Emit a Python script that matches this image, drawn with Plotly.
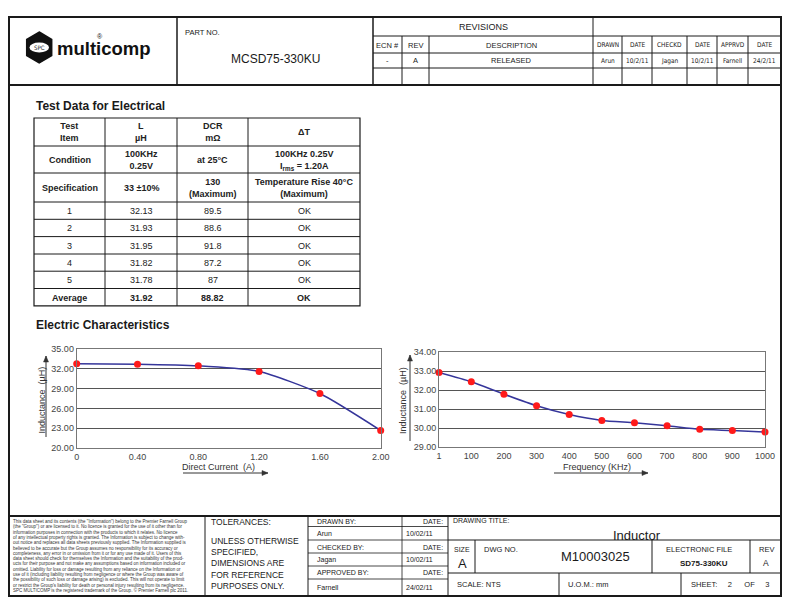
import plotly.graph_objects as go

# page is 792x612; the browser adds an 8px body margin around the figure
W, H = 792, 612
OFF = 8
FIG_W, FIG_H = W - 2 * OFF, H - 2 * OFF
FONT = "Liberation Sans, Arial, sans-serif"
NARROW = "Liberation Sans Narrow, DejaVu Sans Condensed, Liberation Sans, sans-serif"
INK = "#1a1a1a"

# --- chart data ---
dc_current = [0, 0.40, 0.80, 1.20, 1.60, 2.00]
dc_inductance = [32.75, 32.70, 32.45, 31.60, 28.25, 22.65]
dc_ticks = ["0", "0.40", "0.80", "1.20", "1.60", "2.00"]
dc_yticks = [20, 23, 26, 29, 32, 35]

freq_khz = [1, 100, 200, 300, 400, 500, 600, 700, 800, 900, 1000]
freq_inductance = [32.92, 32.43, 31.78, 31.17, 30.71, 30.40, 30.28, 30.12, 29.93, 29.87, 29.79]
freq_yticks = [29, 30, 31, 32, 33, 34]

# --- test table ---
table_header = ["Test<br>Item", "L<br>µH", "DCR<br>mΩ", "ΔT"]
condition_row = ["Condition", "100KHz<br>0.25V", "at 25°C", "100KHz 0.25V<br>I<sub>rms</sub> = 1.20A"]
spec_row = ["Specification", "33 ±10%", "130<br>(Maximum)", "Temperature Rise 40°C<br>(Maximum)"]
sample_ids = ["1", "2", "3", "4", "5"]
sample_L = ["32.13", "31.93", "31.95", "31.82", "31.78"]
sample_dcr = ["89.5", "88.6", "91.8", "87.2", "87"]
sample_dt = ["OK", "OK", "OK", "OK", "OK"]
average_row = ["Average", "31.92", "88.82", "OK"]

# --- revision block ---
rev_left_head = ["ECN #", "REV", "DESCRIPTION"]
rev_left_vals = ["-", "A", "RELEASED"]
rev_right_head = ["DRAWN", "DATE", "CHECKD", "DATE", "APPRVD", "DATE"]
rev_right_vals = ["Arun", "10/2/11", "Jagan", "10/2/11", "Farnell", "24/2/11"]

disclaimer = [
    "This data sheet and its contents (the \"Information\") belong to the Premier Farnell Group",
    "(the \"Group\") or are licensed to it. No licence is granted for the use of it other than for",
    "information purposes in connection with the products to which it relates. No licence",
    "of any intellectual property rights is granted. The Information is subject to change with-",
    "out notice and replaces all data sheets previously supplied. The Information supplied is",
    "believed to be accurate but the Group assumes no responsibility for its accuracy or",
    "completeness, any error in or omission from it or for any use made of it. Users of this",
    "data sheet should check for themselves the Information and the suitability of the prod-",
    "ucts for their purpose and not make any assumptions based on information included or",
    "omitted. Liability for loss or damage resulting from any reliance on the Information or",
    "use of it (including liability resulting from negligence or where the Group was aware of",
    "the possibility of such loss or damage arising) is excluded. This will not operate to limit",
    "or restrict the Group's liability for death or personal injury resulting from its negligence.",
    "SPC MULTICOMP is the registered trademark of the Group. © Premier Farnell plc 2011.",
]
tolerances = ["UNLESS OTHERWISE", "SPECIFIED,", "DIMENSIONS ARE", "FOR REFERENCE", "PURPOSES ONLY."]

shapes = []
annotations = []


def px(x):
    # page pixel -> paper fraction
    return (x - OFF) / FIG_W


def py(y):
    return 1 - (y - OFF) / FIG_H


def line(x0, y0, x1, y1, w=1, c=INK):
    shapes.append(dict(type="line", xref="paper", yref="paper",
                       x0=px(x0), y0=py(y0), x1=px(x1), y1=py(y1),
                       line=dict(color=c, width=w)))


def text(x, y, s, size=8, bold=False, anchor="center", color=INK, family=FONT, angle=0):
    if bold:
        s = "<b>" + s.replace("<br>", "</b><br><b>") + "</b>"
    annotations.append(dict(xref="paper", yref="paper", x=px(x), y=py(y), text=s,
                            showarrow=False, xanchor=anchor, yanchor="middle",
                            textangle=angle, borderpad=0,
                            font=dict(size=size, color=color, family=family)))


def arrow(x0, y0, x1, y1, c="#333"):
    # axis-title arrow: a line with a small filled head at (x1, y1)
    line(x0, y0, x1, y1, 1, c)
    if x0 == x1:
        d = -1 if y1 < y0 else 1
        pts = [(x1, y1), (x1 - 2.5, y1 - d * 6), (x1 + 2.5, y1 - d * 6)]
    else:
        d = 1 if x1 > x0 else -1
        pts = [(x1, y1), (x1 - d * 6, y1 - 2.5), (x1 - d * 6, y1 + 2.5)]
    path = "M " + " L ".join(f"{px(a)} {py(b)}" for a, b in pts) + " Z"
    shapes.append(dict(type="path", xref="paper", yref="paper", path=path,
                       fillcolor=c, line=dict(color=c, width=0.5)))


# outer frame and main dividers
shapes.append(dict(type="rect", xref="paper", yref="paper", x0=px(9), y0=py(17), x1=px(781), y1=py(596),
                   line=dict(color=INK, width=2)))
line(9, 85, 781, 85, 2)
line(9, 516, 781, 516, 2)
line(177, 17, 177, 85, 1.5)
line(373, 17, 373, 85, 1.5)

# logo
hexpath = "M {} {} L {} {} L {} {} L {} {} L {} {} L {} {} Z".format(
    px(39.2), py(32), px(51.7), py(39.5), px(51.7), py(55.5),
    px(39.2), py(63), px(26.7), py(55.5), px(26.7), py(39.5))
shapes.append(dict(type="path", xref="paper", yref="paper", path=hexpath,
                   fillcolor="#111", line=dict(color="#111", width=1.5)))
shapes.append(dict(type="circle", xref="paper", yref="paper", x0=px(29.5), y0=py(42.5), x1=px(49), y1=py(52.5),
                   fillcolor="white", line=dict(color="white", width=0)))
text(39.3, 47.7, "SPC", 6, family=NARROW)
text(104, 48, "<b>multicomp</b>", 18.5, color="#111")
text(99.5, 37, "®", 7, color="#111")

# part number
text(184, 33, "PART NO.", 7.5, anchor="left")
text(275, 59, "MCSD75-330KU", 12)

# revisions
line(593, 17, 593, 85)
line(373, 36, 781, 36)
line(373, 53, 781, 53)
line(373, 68, 781, 68)
for xv in [402, 429, 622, 652, 687, 717, 748]:
    line(xv, 36, xv, 85)
text(483, 26.5, "REVISIONS", 9)
left_cols = [373, 402, 429, 593]
for i in range(3):
    cx = (left_cols[i] + left_cols[i + 1]) / 2
    text(cx, 45, rev_left_head[i], 7.5)
    text(cx, 60.5, rev_left_vals[i], 7.5)
right_cols = [593, 622, 652, 687, 717, 748, 781]
for i in range(6):
    cx = (right_cols[i] + right_cols[i + 1]) / 2
    text(cx, 45.5, rev_right_head[i], 6.5, family=NARROW)
    text(cx, 61, rev_right_vals[i], 6.5, family=NARROW)

# test data table
text(35, 106, "Test Data for Electrical", 12, bold=True, anchor="left")
col_x = [34, 105, 177, 248, 360]
row_y = [118, 146, 173, 202, 219.3, 236.6, 254, 271.2, 288.5, 305.8]
shapes.append(dict(type="rect", xref="paper", yref="paper", x0=px(col_x[0]), y0=py(row_y[0]),
                   x1=px(col_x[-1]), y1=py(row_y[-1]), line=dict(color=INK, width=1.2)))
for xv in col_x[1:-1]:
    line(xv, row_y[0], xv, row_y[-1])
for yv in row_y[1:-1]:
    line(col_x[0], yv, col_x[-1], yv)

table_rows = [(table_header, True), (condition_row, True), (spec_row, True)]
for k in range(5):
    table_rows.append(([sample_ids[k], sample_L[k], sample_dcr[k], sample_dt[k]], False))
table_rows.append((average_row, True))
for r, (cells, bold) in enumerate(table_rows):
    cy = (row_y[r] + row_y[r + 1]) / 2 + 0.5
    for c, s in enumerate(cells):
        cx = (col_x[c] + col_x[c + 1]) / 2
        text(cx, cy, s, 9, bold=bold, color="#222")

# electric characteristics
text(35, 325, "Electric Characteristics", 12, bold=True, anchor="left")

fig = go.Figure()
fig.add_trace(go.Scatter(x=dc_current, y=dc_inductance, mode="lines+markers",
                         line=dict(color="#35359a", width=1.5, shape="spline", smoothing=0.6),
                         marker=dict(color="#ff1a1a", size=7), cliponaxis=False,
                         xaxis="x", yaxis="y", showlegend=False))
fig.add_trace(go.Scatter(x=freq_khz, y=freq_inductance, mode="lines+markers",
                         line=dict(color="#35359a", width=1.5, shape="spline", smoothing=0.6),
                         marker=dict(color="#ff1a1a", size=7), cliponaxis=False,
                         xaxis="x2", yaxis="y2", showlegend=False))

tick_font = dict(size=9, color="#444", family=FONT)
axis_common = dict(showline=True, mirror=True, linecolor="#777", linewidth=1, automargin=False,
                   ticks="", zeroline=False, tickfont=tick_font, fixedrange=True)

# axis titles and arrows
text(41.5, 400, "Inductance  (µH)", 9, angle=-90, color="#333")
arrow(46, 437, 46, 356)
text(218, 466.5, "Direct Current  (A)", 9, color="#333")
arrow(183, 473, 268, 473)
text(403, 401, "Inductance  (µH)", 9, angle=-90, color="#333")
arrow(410, 441, 410, 355)
text(597, 466.5, "Frequency (KHz)", 9, color="#333")
arrow(554, 473, 648, 473)

# footer: disclaimer
for i, s in enumerate(disclaimer):
    text(12, 521.5 + i * 5.3, s, 4.5, anchor="left", color="#333")
line(205, 516, 205, 596)

# tolerances
text(210, 522, "TOLERANCES:", 8.5, anchor="left")
for i, s in enumerate(tolerances):
    text(210, 541 + i * 11.2, s, 8.5, anchor="left")
line(308, 516, 308, 596)

# drawn / checked / approved
for yv in [526.5, 540, 553, 566, 579]:
    line(308, yv, 448, yv, 0.8)
line(402, 516, 402, 596, 0.8)
sign_labels = ["DRAWN BY:", "CHECKED BY:", "APPROVED BY:"]
sign_names = ["Arun", "Jagan", "Farnell"]
sign_dates = ["10/02/11", "10/02/11", "24/02/11"]
label_y = [521.5, 547, 572.5]
name_y = [533.5, 559.5, 587]
for i in range(3):
    text(316, label_y[i], sign_labels[i], 7, anchor="left")
    text(444, label_y[i], "DATE:", 7, anchor="right")
    text(316, name_y[i], sign_names[i], 7, anchor="left")
    text(405, name_y[i], sign_dates[i], 7, anchor="left")
line(448, 516, 448, 596, 1)

# title block
text(452, 520, "DRAWING TITLE:", 7, anchor="left")
text(637, 535, "Inductor", 13)
line(448, 540, 781, 540)
line(448, 573, 781, 573)
line(475, 540, 475, 573)
line(652, 540, 652, 573)
line(750, 540, 750, 573)
line(559, 573, 559, 596)
line(681, 573, 681, 596)
text(462, 549, "SIZE", 7)
text(462, 563, "A", 13)
text(483, 549.5, "DWG NO.", 7.5, anchor="left")
text(595, 556, "M10003025", 13)
text(699, 549.5, "ELECTRONIC FILE", 7.5)
text(704, 563, "SD75-330KU", 8, bold=True)
text(766, 549.5, "REV", 7.5)
text(766, 563, "A", 8.5)
text(456, 584, "SCALE: NTS", 7.5, anchor="left")
text(567, 584, "U.O.M.: mm", 7.5, anchor="left")
text(690, 584, "SHEET:     2      OF     3", 7.5, anchor="left")

fig.update_layout(
    width=FIG_W, height=FIG_H,
    margin=dict(l=0, r=0, t=0, b=0, autoexpand=False),
    paper_bgcolor="white", plot_bgcolor="white",
    font=dict(family=FONT, color=INK),
    xaxis=dict(domain=[px(76.7), px(380.7)], range=[0, 2], tickvals=dc_current, ticktext=dc_ticks,
               showgrid=False, anchor="y", **axis_common),
    yaxis=dict(domain=[py(448), py(349)], range=[20, 35], tickvals=dc_yticks,
               ticktext=[f"{v:.2f}" for v in dc_yticks], showgrid=True, gridcolor="#555", gridwidth=1,
               anchor="x", **axis_common),
    xaxis2=dict(domain=[px(439), px(765)], range=[1, 1000], tickvals=freq_khz,
                ticktext=[str(v) for v in freq_khz], showgrid=False, anchor="y2", **axis_common),
    yaxis2=dict(domain=[py(447), py(352)], range=[29, 34], tickvals=freq_yticks,
                ticktext=[f"{v:.2f}" for v in freq_yticks], showgrid=True, gridcolor="#555", gridwidth=1,
                anchor="x2", **axis_common),
    shapes=shapes,
    annotations=annotations,
)

fig.write_html("out.html")
